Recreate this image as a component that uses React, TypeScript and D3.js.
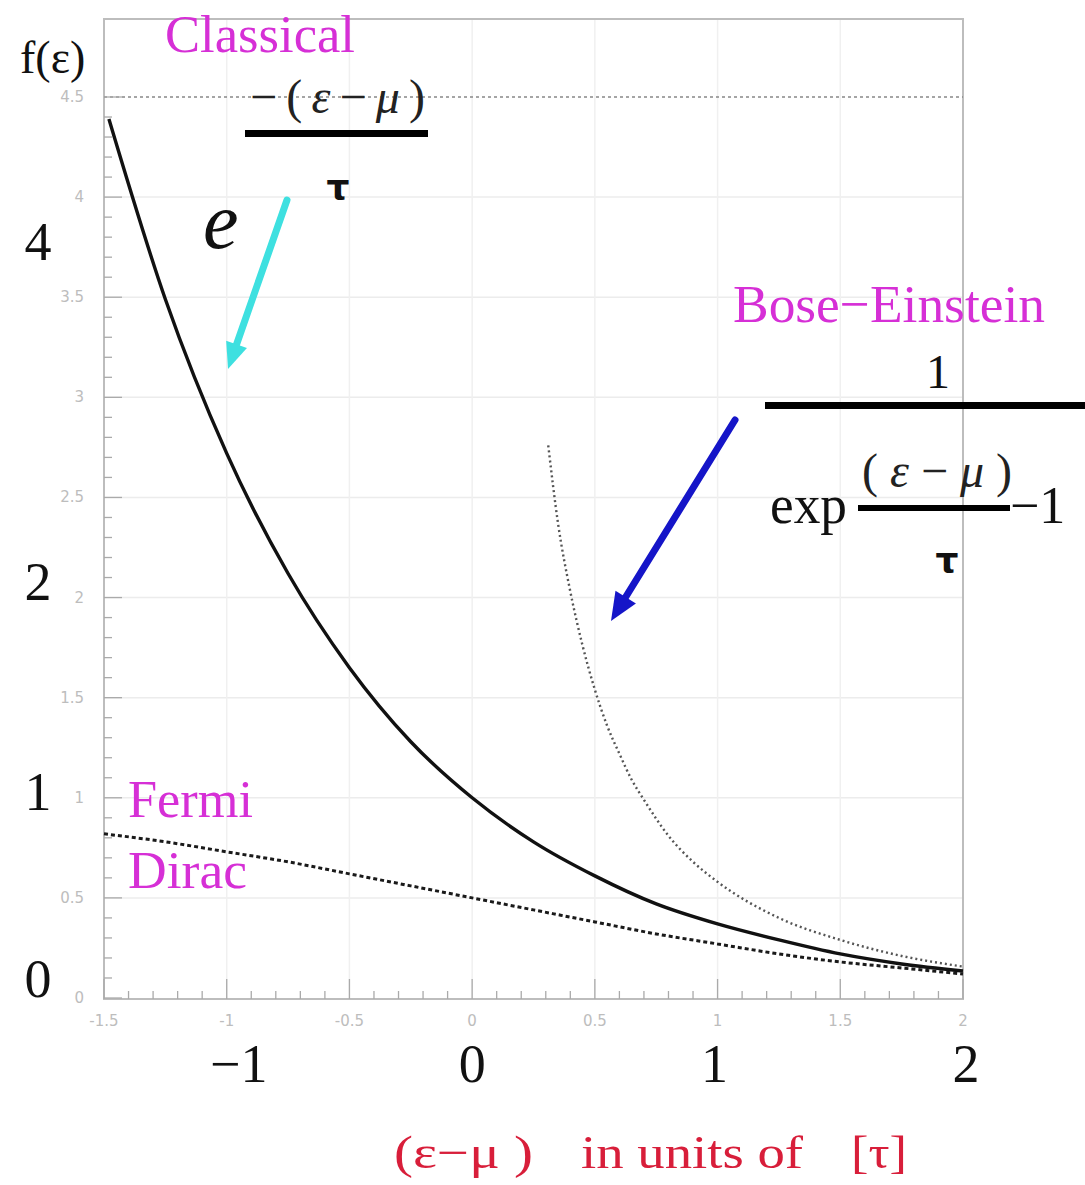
import React from "react";
import * as d3 from "d3";

// Occupation numbers f(ε) against (ε−μ)/τ
const classicalX = [-1.48, -1.25, -1.0, -0.75, -0.5, -0.25, 0, 0.25, 0.5, 0.75, 1.0, 1.25, 1.5, 1.75, 2.0];
const classicalY = [4.39, 3.49, 2.72, 2.12, 1.65, 1.28, 1.0, 0.78, 0.61, 0.47, 0.37, 0.29, 0.22, 0.17, 0.135];

const fermiX = [-1.5, -1.25, -1.0, -0.75, -0.5, -0.25, 0, 0.25, 0.5, 0.75, 1.0, 1.25, 1.5, 1.75, 2.0];
const fermiY = [0.82, 0.78, 0.73, 0.68, 0.62, 0.56, 0.5, 0.44, 0.38, 0.32, 0.27, 0.22, 0.18, 0.15, 0.12];

const boseX = [0.31, 0.35, 0.4, 0.45, 0.5, 0.55, 0.6, 0.65, 0.7, 0.8, 0.9, 1.0, 1.25, 1.5, 1.75, 2.0];
const boseY = [2.76, 2.37, 2.03, 1.76, 1.54, 1.36, 1.22, 1.09, 0.99, 0.81, 0.68, 0.58, 0.4, 0.29, 0.21, 0.157];

// axis ticks
const xTickValues = [-1.5, -1, -0.5, 0, 0.5, 1, 1.5, 2];
const xTickLabels = ["-1.5", "-1", "-0.5", "0", "0.5", "1", "1.5", "2"];
const yTickValues = [0, 0.5, 1, 1.5, 2, 2.5, 3, 3.5, 4, 4.5];
const yTickLabels = ["0", "0.5", "1", "1.5", "2", "2.5", "3", "3.5", "4", "4.5"];
const bigXLabels = [-1, 0, 1, 2];
const bigYLabels = [0, 1, 2, 4];

const SERIF = "'Liberation Serif', 'DejaVu Serif', serif";
const MAGENTA = "#d62fd6";
const RED = "#d81e3a";

export default function App() {
  const W = 1085;
  const H = 1185;
  const left = 104;
  const right = 963;
  const top = 19;
  const bottom = 999;

  const x = d3.scaleLinear().domain([-1.5, 2]).range([left, right]);
  const y = d3.scaleLinear().domain([0, 4.5]).range([998, 97]);

  const mkLine = (xs: number[], ys: number[]) =>
    d3
      .line<number>()
      .x((_, i) => x(xs[i]))
      .y((d) => y(d))
      .curve(d3.curveMonotoneX)(ys) || "";

  const minorX = d3.range(-1.5, 2.0001, 0.1).map((v) => Math.round(v * 10) / 10);
  const minorY = d3.range(0, 4.5001, 0.1).map((v) => Math.round(v * 10) / 10);

  const bigYNudge: Record<number, number> = { 4: 63, 2: 2, 1: 12, 0: -1 };
  const bigXNudge: Record<number, number> = { [-1]: 12, 0: 0, 1: -3, 2: 3 };

  const arrowHead = (x1: number, y1: number, x2: number, y2: number, len: number, half: number) => {
    const a = Math.atan2(y2 - y1, x2 - x1);
    const bx = x2 - len * Math.cos(a);
    const by = y2 - len * Math.sin(a);
    const px = -Math.sin(a) * half;
    const py = Math.cos(a) * half;
    return `${x2},${y2} ${bx + px},${by + py} ${bx - px},${by - py}`;
  };

  return (
    <svg
      width={W}
      height={H}
      style={{ position: "absolute", left: 0, top: 0, background: "#fff" }}
      fontFamily={SERIF}
    >
      <rect x={0} y={0} width={W} height={H} fill="#fff" />

      {/* faint grid */}
      {yTickValues.slice(1, -1).map((v) => (
        <line key={"gy" + v} x1={left} x2={right} y1={y(v)} y2={y(v)} stroke="#ececec" strokeWidth={1.5} />
      ))}
      {xTickValues.slice(1, -1).map((v) => (
        <line key={"gx" + v} x1={x(v)} x2={x(v)} y1={top} y2={bottom} stroke="#f0f0f0" strokeWidth={1.5} />
      ))}

      {/* frame */}
      <rect x={left} y={top} width={right - left} height={bottom - top} fill="none" stroke="#bdbdbd" strokeWidth={2} />

      {/* dotted line at the top of the range */}
      <line x1={left} x2={right} y1={y(4.5)} y2={y(4.5)} stroke="#888" strokeWidth={1.5} strokeDasharray="3 3" />

      {/* ticks */}
      {minorX.map((v) => {
        const major = Math.abs(v * 2 - Math.round(v * 2)) < 1e-6;
        return (
          <line key={"tx" + v} x1={x(v)} x2={x(v)} y1={bottom} y2={bottom - (major ? 20 : 8)} stroke="#aaa" strokeWidth={1.3} />
        );
      })}
      {minorY.map((v) => {
        const major = Math.abs(v * 2 - Math.round(v * 2)) < 1e-6;
        return (
          <line key={"ty" + v} x1={left} x2={left + (major ? 18 : 8)} y1={y(v)} y2={y(v)} stroke="#aaa" strokeWidth={1.3} />
        );
      })}

      {/* small tick labels */}
      {xTickValues.map((v, i) => (
        <text key={"lx" + v} x={x(v)} y={1026} textAnchor="middle" fontSize={15} fill="#bdbdbd" fontFamily="'DejaVu Sans', sans-serif">
          {xTickLabels[i]}
        </text>
      ))}
      {yTickValues.map((v, i) => (
        <text key={"ly" + v} x={84} y={y(v) + 5} textAnchor="end" fontSize={15} fill="#bdbdbd" fontFamily="'DejaVu Sans', sans-serif">
          {yTickLabels[i]}
        </text>
      ))}

      {/* large axis numbers */}
      {bigXLabels.map((v) => (
        <text key={"bx" + v} x={x(v) + bigXNudge[v]} y={1082} textAnchor="middle" fontSize={54} fill="#111">
          {v < 0 ? "\u2212" + Math.abs(v) : String(v)}
        </text>
      ))}
      {bigYLabels.map((v) => (
        <text key={"by" + v} x={38} y={y(v) + bigYNudge[v]} textAnchor="middle" fontSize={54} fill="#111">
          {String(v)}
        </text>
      ))}

      {/* curves */}
      <path d={mkLine(fermiX, fermiY)} fill="none" stroke="#1a1a1a" strokeWidth={3} strokeDasharray="4 3" />
      <path d={mkLine(boseX, boseY)} fill="none" stroke="#555" strokeWidth={2.4} strokeDasharray="2 3" />
      <path d={mkLine(classicalX, classicalY)} fill="none" stroke="#111" strokeWidth={3.4} />

      {/* y-axis title */}
      <text x={20} y={73} fontSize={46} fill="#111">
        f(ε)
      </text>

      {/* Classical */}
      <text x={165} y={52} fontSize={52} fill={MAGENTA} textLength={190} lengthAdjust="spacingAndGlyphs">
        Classical
      </text>
      <text x={250} y={113} fontSize={48} fill="#222" textLength={175} lengthAdjust="spacing">
        {"\u2212("}
        <tspan fontStyle="italic">ε</tspan>
        {"\u2212"}
        <tspan fontStyle="italic">μ</tspan>
        {")"}
      </text>
      <rect x={245} y={130} width={183} height={7} fill="#000" />
      <text x={338} y={200} fontSize={36} fill="#111" textAnchor="middle" fontFamily="'DejaVu Sans', sans-serif" fontWeight="bold">
        τ
      </text>
      <text x={203} y={248} fontSize={80} fill="#111" fontStyle="italic">
        e
      </text>
      <line x1={287} y1={200} x2={236} y2={346} stroke="#3ee0e0" strokeWidth={7} strokeLinecap="round" />
      <polygon points={arrowHead(287, 200, 228, 369, 26, 11)} fill="#3ee0e0" />

      {/* Bose−Einstein */}
      <text x={733} y={322} fontSize={53} fill={MAGENTA} textLength={312} lengthAdjust="spacingAndGlyphs">
        Bose−Einstein
      </text>
      <text x={938} y={388} fontSize={48} fill="#111" textAnchor="middle">
        1
      </text>
      <rect x={765} y={402} width={320} height={7} fill="#000" />
      <text x={770} y={523} fontSize={54} fill="#111" textLength={77} lengthAdjust="spacingAndGlyphs">
        exp
      </text>
      <text x={862} y={487} fontSize={48} fill="#222" textLength={150} lengthAdjust="spacing">
        {"("}
        <tspan fontStyle="italic">ε</tspan>
        {"\u2212"}
        <tspan fontStyle="italic">μ</tspan>
        {")"}
      </text>
      <rect x={858} y={505} width={152} height={6} fill="#000" />
      <text x={1010} y={523} fontSize={52} fill="#111">
        {"\u22121"}
      </text>
      <text x={947} y={573} fontSize={36} fill="#111" textAnchor="middle" fontFamily="'DejaVu Sans', sans-serif" fontWeight="bold">
        τ
      </text>
      <line x1={735} y1={420} x2={622} y2={603} stroke="#1515c8" strokeWidth={7} strokeLinecap="round" />
      <polygon points={arrowHead(735, 420, 611, 621, 28, 12)} fill="#1515c8" />

      {/* Fermi−Dirac */}
      <text x={128} y={817} fontSize={52} fill={MAGENTA} textLength={125} lengthAdjust="spacingAndGlyphs">
        Fermi
      </text>
      <text x={128} y={888} fontSize={52} fill={MAGENTA} textLength={119} lengthAdjust="spacingAndGlyphs">
        Dirac
      </text>

      {/* x-axis title */}
      <text x={394} y={1168} fontSize={46} fill={RED} textLength={139} lengthAdjust="spacingAndGlyphs">
        (ε−μ )
      </text>
      <text x={581} y={1168} fontSize={46} fill={RED} textLength={222} lengthAdjust="spacingAndGlyphs">
        in units of
      </text>
      <text x={851} y={1168} fontSize={46} fill={RED} textLength={56} lengthAdjust="spacingAndGlyphs">
        [τ]
      </text>
    </svg>
  );
}
